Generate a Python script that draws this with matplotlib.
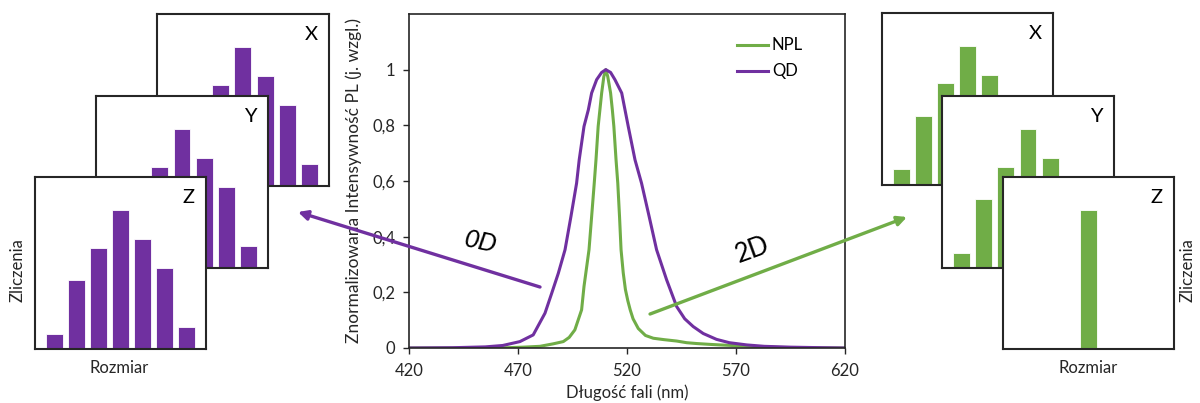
import matplotlib
matplotlib.use("Agg")
import matplotlib.pyplot as plt
from matplotlib.patches import FancyArrowPatch

plt.rcParams['font.family'] = ['Lato', 'DejaVu Sans']

# PL spectra
qd_wl = [420, 440, 455, 463, 470.9, 477.0, 482.4, 485.5, 488.5, 491.6, 494.3, 496.9,
         498.1, 500.3, 502.3, 503.8, 506.1, 508.4, 510.3, 512.5, 514.5, 517.6, 519.1,
         520.6, 523.7, 526.7, 530.2, 533.6, 538.2, 542.8, 546.5, 550.4, 555, 561.1,
         567, 575, 583, 595, 610, 620]
qd_val = [0, 0.001, 0.004, 0.009, 0.023, 0.047, 0.125, 0.197, 0.268, 0.353, 0.472, 0.592,
          0.676, 0.796, 0.856, 0.916, 0.964, 0.99, 1.0, 0.99, 0.964, 0.916, 0.856,
          0.796, 0.676, 0.592, 0.472, 0.353, 0.245, 0.149, 0.105, 0.077, 0.052, 0.031,
          0.019, 0.011, 0.006, 0.003, 0.001, 0]
npl_wl = [420, 450, 465, 472.4, 480.1, 486.2, 490.8, 493.5, 496.1, 499.2, 500.3, 502.6,
          503.8, 505.0, 505.8, 506.8, 507.6, 508.4, 509.4, 510.3, 511.2, 512.5, 513.3,
          514.0, 515.0, 515.8, 516.6, 517.3, 518.3, 519.3, 520.4, 521.5, 522.8, 525.2,
          528.5, 532.1, 537, 542.8, 547.4, 552, 558, 562.7, 576.4, 590, 605, 620]
npl_val = [0, 0, 0.001, 0.003, 0.006, 0.015, 0.023, 0.038, 0.065, 0.137, 0.221, 0.353,
           0.472, 0.592, 0.676, 0.796, 0.856, 0.916, 0.975, 1.0, 0.975, 0.916, 0.856,
           0.796, 0.676, 0.592, 0.472, 0.353, 0.27, 0.21, 0.17, 0.137, 0.105, 0.07,
           0.045, 0.035, 0.03, 0.025, 0.019, 0.016, 0.013, 0.011, 0.006, 0.002, 0.0005, 0]

x_ticks = [420, 470, 520, 570, 620]
y_ticks = [0, 0.2, 0.4, 0.6, 0.8, 1.0]
y_tick_labels = ['0', '0,2', '0,4', '0,6', '0,8', '1']

# size histograms (arbitrary counts)
size_bins = [0, 1, 2, 3, 4, 5, 6]
counts_broad = [9, 40, 59, 81, 64, 47, 13]
counts_single = [0, 0, 0, 81, 0, 0, 0]
panel_letters = ['X', 'Y', 'Z']

purple = '#7030A0'
green = '#70AD47'
frame = '#262626'
fs = 12

fig = plt.figure(figsize=(12, 4.03), dpi=100)

# main spectrum
ax = fig.add_axes([0.3408, 0.1365, 0.3633, 0.8288])
ax.plot(npl_wl, npl_val, color=green, lw=2.2, label='NPL')
ax.plot(qd_wl, qd_val, color=purple, lw=2.2, label='QD')
ax.set_xlim(420, 620)
ax.set_ylim(0, 1.2)
ax.set_xticks(x_ticks)
ax.set_yticks(y_ticks)
ax.set_yticklabels(y_tick_labels)
ax.tick_params(direction='out', length=4, width=1, labelsize=fs, color=frame,
               labelcolor='#262626')
ax.tick_params(axis='x', pad=7)
ax.tick_params(axis='y', pad=6)
for s in ax.spines.values():
    s.set_color(frame)
    s.set_linewidth(1.2)
ax.set_xlabel('Długość fali (nm)', fontsize=fs, color='#262626')
ax.set_ylabel('Znormalizowana Intensywność PL (j. wzgl.)', fontsize=12.5, color='#262626')
ax.xaxis.set_label_coords(0.5, -0.108)
ax.yaxis.set_label_coords(-0.108, 0.5)
ax.legend(loc='upper left', bbox_to_anchor=(0.752, 0.93), frameon=False,
          fontsize=fs, handlelength=1.9, handletextpad=0.2, labelspacing=0.6,
          borderpad=0, borderaxespad=0)

# histogram stacks
left_pos = [[0.1308, 0.5385, 0.1433, 0.4268],
            [0.0800, 0.3350, 0.1433, 0.4268],
            [0.0292, 0.1340, 0.1425, 0.4268]]
right_pos = [[0.7350, 0.5410, 0.1425, 0.4268],
             [0.7850, 0.3350, 0.1433, 0.4268],
             [0.8358, 0.1340, 0.1425, 0.4268]]
right_counts = [counts_broad, counts_broad, counts_single]


def hist_panel(pos, counts, color, letter):
    a = fig.add_axes(pos)
    a.set_facecolor('white')
    a.bar(size_bins, counts, width=0.76, color=color, edgecolor='white', linewidth=0.6)
    a.set_xlim(-0.87, 6.87)
    a.set_ylim(0, 100)
    a.set_xticks([])
    a.set_yticks([])
    for s in a.spines.values():
        s.set_color(frame)
        s.set_linewidth(1.5)
    a.text(0.895, 0.878, letter, transform=a.transAxes, ha='center', va='center',
           fontsize=14.5, color='black')
    return a


for pos, letter in zip(left_pos, panel_letters):
    hist_panel(pos, counts_broad, purple, letter)
for pos, cnt, letter in zip(right_pos, right_counts, panel_letters):
    hist_panel(pos, cnt, green, letter)

fig.text(0.015, 0.33, 'Zliczenia', rotation=90, ha='center', va='center',
         fontsize=fs, color='#262626')
fig.text(0.99, 0.33, 'Zliczenia', rotation=90, ha='center', va='center',
         fontsize=fs, color='#262626')
fig.text(0.099, 0.0868, 'Rozmiar', ha='center', va='center', fontsize=fs, color='#262626')
fig.text(0.9067, 0.0868, 'Rozmiar', ha='center', va='center', fontsize=fs, color='#262626')

# arrows
for start, end, col in [((0.4500, 0.2878), (0.2483, 0.4740), purple),
                        ((0.5417, 0.2208), (0.7558, 0.4615), green)]:
    arr = FancyArrowPatch(start, end, transform=fig.transFigure, arrowstyle='-|>',
                          mutation_scale=14, color=col, lw=2.4, shrinkA=0, shrinkB=0,
                          zorder=5)
    fig.add_artist(arr)

fig.text(0.40, 0.398, '0D', rotation=-12, ha='center', va='center', fontsize=18.5,
         style='italic', color='black')
fig.text(0.627, 0.38, '2D', rotation=20, ha='center', va='center', fontsize=18.5,
         color='black')

fig.savefig('out.png', dpi=100)
